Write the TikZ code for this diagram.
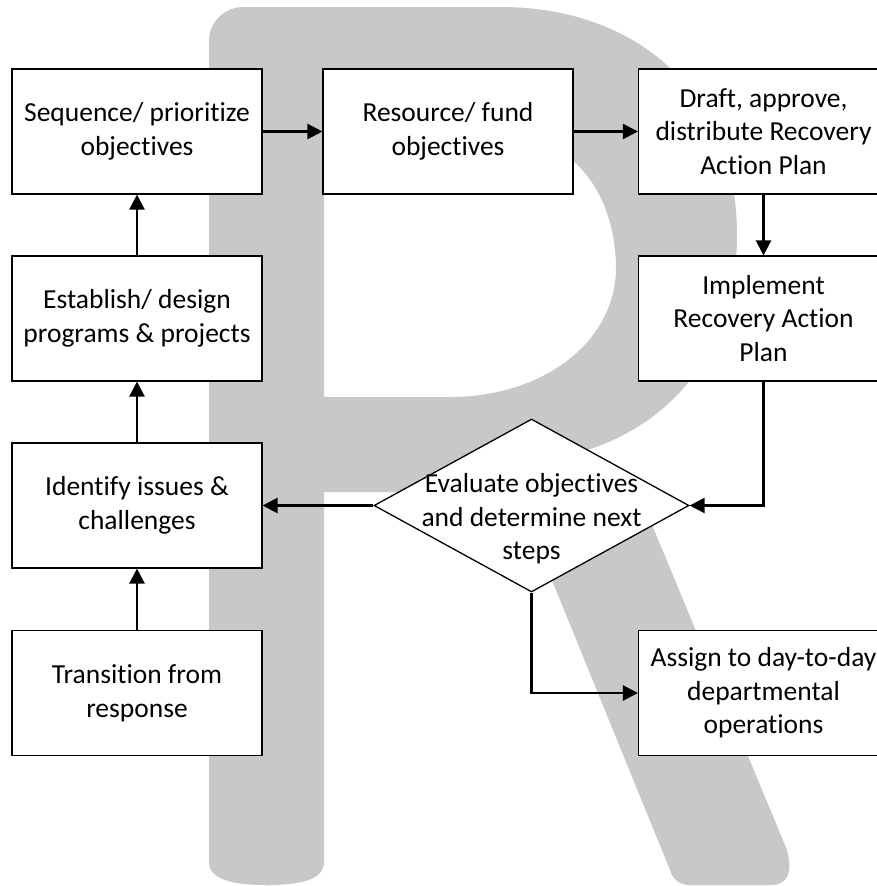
\documentclass[tikz,border=0pt]{standalone}
\usepackage{fontspec}
\setmainfont{Carlito}[Ligatures={NoCommon,NoContextual}]
\usetikzlibrary{shapes.geometric,arrows.meta}
\definecolor{rgray}{RGB}{199,200,202}
\begin{document}
\begin{tikzpicture}[x=1pt,y=-1pt,
  box/.style={draw=black,line width=1.1pt,fill=white,minimum width=250pt,minimum height=125pt,inner sep=0pt,align=center,font=\fontsize{27.5}{33.5}\selectfont},
  flow/.style={line width=2.3pt,-{Triangle[length=15pt,width=15pt]}},
  decision/.style={diamond,draw=black,line width=1.3pt,fill=white,minimum width=315pt,minimum height=173pt,inner sep=0pt},
  label/.style={align=center,inner sep=0pt,font=\fontsize{27.5}{33.5}\selectfont}]
\useasboundingbox[fill=white] (0,0) rectangle (877,886);
% watermark letter R
\fill[rgray,even odd rule]
  (209,40) .. controls (209,22) and (225,7) .. (243,7) -- (500,7)
  .. controls (642,7) and (737,98) .. (737,235)
  .. controls (737,372) and (642,463) .. (500,463)
  -- (650,520) -- (787,850)
  .. controls (792,870) and (790,885) .. (770,885) -- (690,885)
  .. controls (680,885) and (673,880) .. (670,870)
  -- (516,492) -- (324,492) -- (324,862)
  .. controls (324,880) and (300,885) .. (267,885)
  .. controls (234,885) and (209,880) .. (209,862) -- cycle
  (324,130) -- (480,130) .. controls (580,130) and (616,200) .. (616,270)
  .. controls (614,345) and (540,397) .. (450,397) -- (324,397) -- cycle;
% boxes
\node[box] (seq)    at (137,131.5)   {Sequence/ prioritize\\objectives};
\node[box] (res)    at (448,131.5)   {Resource/ fund\\objectives};
\node[box] (draft)  at (763.5,131.5) {Draft, approve,\\distribute Recovery\\Action Plan};
\node[box] (est)    at (137,318.5)   {Establish/ design\\programs \& projects};
\node[box] (impl)   at (763.5,318.5) {Implement\\Recovery Action\\Plan};
\node[box] (ident)  at (137,505.5)   {Identify issues \&\\challenges};
\node[box] (trans)  at (137,693)     {Transition from\\response};
\node[box] (assign) at (763.5,693)   {Assign to day-to-day\\departmental\\operations};
\node[decision] (dia) at (531.5,505.5) {};
\node[label] (diatext) at (531.5,519) {Evaluate objectives\\and determine next\\steps};
% connectors
\draw[flow] (seq) -- (res);
\draw[flow] (res) -- (draft);
\draw[flow] (draft) -- (impl);
\draw[flow] (impl.south) |- (dia.east);
\draw[flow] (dia.west) -- (ident.east);
\draw[flow] (dia.south) |- (assign.west);
\draw[flow] (trans) -- (ident);
\draw[flow] (ident) -- (est);
\draw[flow] (est) -- (seq);
\end{tikzpicture}
\end{document}
